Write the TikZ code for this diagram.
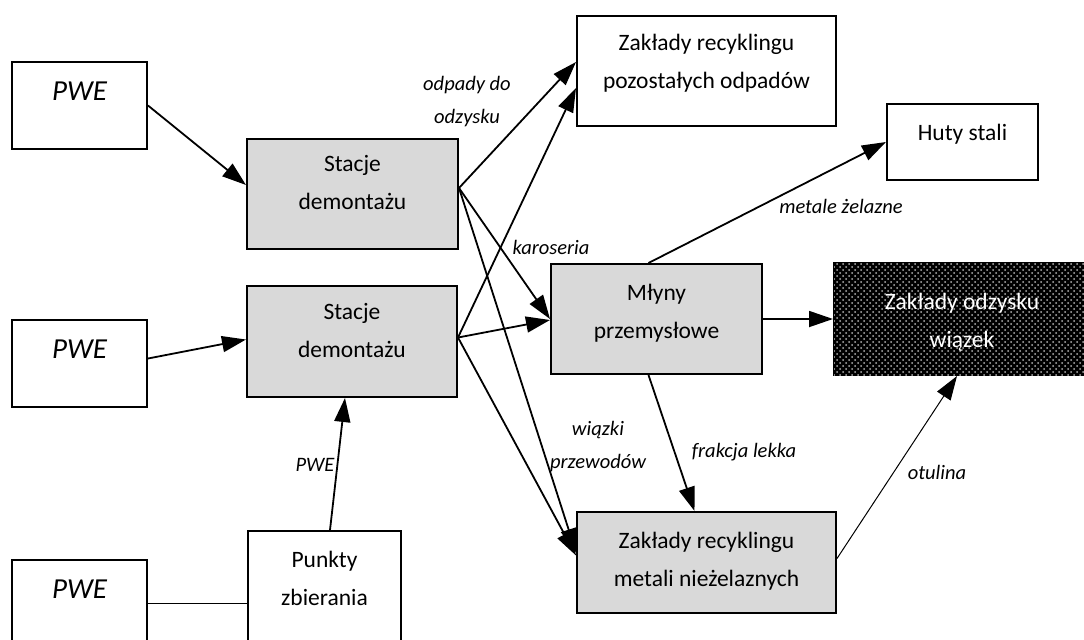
\documentclass[tikz,border=0pt]{standalone}
\usepackage{fontspec}
\setmainfont{Carlito}
\usetikzlibrary{arrows.meta, patterns}

\tikzset{
  box/.style={draw, line width=1pt, inner sep=0pt},
  grey/.style={box, fill=gray!30},
  txt/.style={anchor=north, yshift=-10.5pt, inner sep=0pt, align=center, font=\fontsize{11.75}{18.75}\selectfont},
  pwetxt/.style={txt, yshift=0.5pt, font=\itshape\fontsize{14.5}{18}\selectfont},
  lbl/.style={align=center, inner sep=0pt, font=\itshape\fontsize{10.25}{16.5}\selectfont},
  arr/.style={line width=0.9pt, -{Triangle[length=12pt, width=8pt]}},
}

\begin{document}
\begin{tikzpicture}[x=0.5pt, y=-0.5pt]
  \useasboundingbox (0,0) rectangle (1084,639);
  \clip (0,0) rectangle (1084,639);

  % sources
  \node[box, minimum width=67.5pt, minimum height=43.5pt, label={[pwetxt]north:PWE}] (pwe1) at (79.5,105.5) {};
  \node[box, minimum width=67.5pt, minimum height=43.5pt, label={[pwetxt]north:PWE}] (pwe2) at (79.5,363.5) {};
  \node[box, minimum width=67.5pt, minimum height=43.5pt, label={[pwetxt]north:PWE}] (pwe3) at (79.5,603.5) {};
  \node[box, minimum width=76.5pt, minimum height=59pt, label={[txt]north:Punkty\\zbierania}] (punkty) at (324.5,590) {};

  % dismantling
  \node[grey, minimum width=105.5pt, minimum height=55pt, label={[txt, yshift=2pt]north:Stacje\\demontażu}] (st1) at (352.5,194) {};
  \node[grey, minimum width=105pt, minimum height=55.5pt, label={[txt, yshift=1.5pt]north:Stacje\\demontażu}] (st2) at (352,341.5) {};

  % processing
  \node[box, minimum width=129.5pt, minimum height=55pt, label={[txt, yshift=1pt]north:Zakłady recyklingu\\pozostałych odpadów}] (odp) at (706.5,71) {};
  \node[box, minimum width=75.5pt, minimum height=38pt, label={[txt]north:Huty stali}] (huty) at (962.5,142) {};
  \node[grey, minimum width=105.5pt, minimum height=55pt, label={[txt]north:Młyny\\przemysłowe}] (mlyny) at (656.5,319) {};
  \node[box, fill=black, postaction={pattern=crosshatch dots, pattern color=gray!60}, minimum width=128pt, minimum height=56pt,
        label={[txt, yshift=-5pt, text=white]north:Zakłady odzysku\\wiązek}] (odz) at (962,319) {};
  \node[grey, minimum width=129.5pt, minimum height=50.5pt, label={[txt]north:Zakłady recyklingu\\metali nieżelaznych}] (metali) at (706.5,562.5) {};

  % flows
  \draw[arr] (pwe1.east) -- ([yshift=4.5pt]st1.west);
  \draw[arr] ([yshift=2.5pt]pwe2.east) -- ([yshift=1pt]st2.west);
  \draw[line width=0.9pt] (pwe3.east) -- (pwe3.east -| punkty.west);
  \draw[arr] ([xshift=2.75pt]punkty.north) -- ([xshift=-3.5pt]st2.south);

  \draw[arr] ([yshift=3pt]st1.east) -- ([yshift=4.5pt]odp.west);
  \draw[arr] ([yshift=3pt]st1.east) -- (mlyny.west);
  \draw[arr] ([yshift=3pt]st1.east) -- ([yshift=5pt]metali.west);
  \draw[arr] ([yshift=2pt]st2.east) -- ([yshift=-8.5pt]odp.west);
  \draw[arr] ([yshift=2pt]st2.east) -- ([yshift=-0.5pt]mlyny.west);
  \draw[arr] ([yshift=2pt]st2.east) -- ([yshift=3.5pt]metali.west);

  \draw[arr] ([xshift=-4pt]mlyny.north) -- (huty.west);
  \draw[arr] (mlyny.east) -- (odz.west);
  \draw[arr] ([xshift=-4pt]mlyny.south) -- ([xshift=-6pt]metali.north);
  \draw[arr, line width=0.5pt] ([yshift=2pt]metali.east) -- ([xshift=-2.5pt]odz.south);

  % flow labels
  \node[lbl] (l-pwe) at (315,465) {PWE};
  \node[lbl] (l-odpady) at (467,102) {odpady do\\odzysku};
  \node[lbl] (l-karoseria) at (551,247) {karoseria};
  \node[lbl] (l-wiazki) at (598,447) {wiązki\\przewodów};
  \node[lbl] (l-frakcja) at (744,452) {frakcja lekka};
  \node[lbl] (l-metale) at (841,206) {metale żelazne};
  \node[lbl] (l-otulina) at (937,472) {otulina};
\end{tikzpicture}
\end{document}
